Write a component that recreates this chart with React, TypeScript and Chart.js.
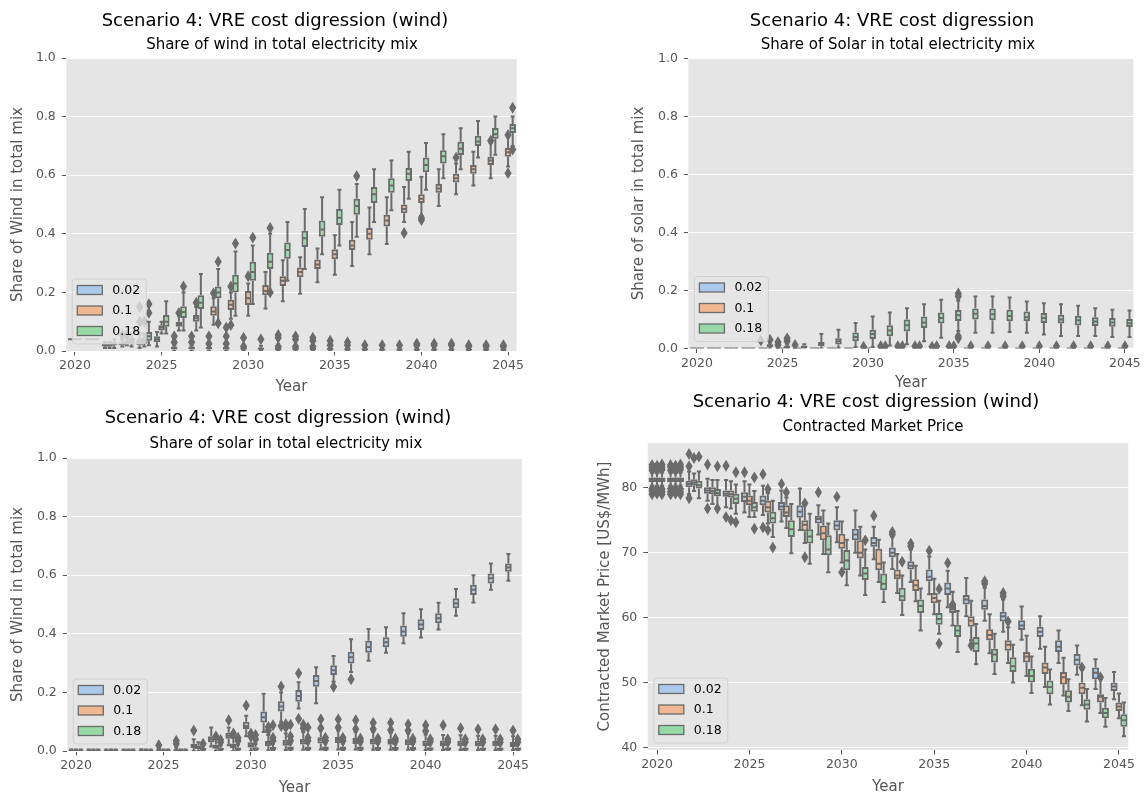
import React, { useEffect, useRef } from 'react';
import { Chart, registerables } from 'chart.js';

Chart.register(...registerables);

// ---------------- data ----------------
const YEARS = [2020, 2021, 2022, 2023, 2024, 2025, 2026, 2027, 2028, 2029, 2030, 2031, 2032, 2033, 2034, 2035, 2036, 2037, 2038, 2039, 2040, 2041, 2042, 2043, 2044, 2045];
const HUES = ['0.02', '0.1', '0.18'];
const X_TICK_YEARS = [2020, 2025, 2030, 2035, 2040, 2045];

// Top-left: share of wind (wind scenario)
const tlMed02 = [0.04, 0.04, 0.02, 0.025, 0.03, 0.04, 0.01, 0.01, 0.01, 0.01, 0.008, 0.008, 0.008, 0.007, 0.007, 0.006, 0.006, 0.005, 0.005, 0.005, 0.005, 0.005, 0.004, 0.004, 0.004, 0.004];
const tlQ1_02 = [0.04, 0.04, 0.015, 0.02, 0.02, 0.03, 0.005, 0.005, 0.005, 0.004, 0.004, 0.004, 0.003, 0.003, 0.003, 0.003, 0.002, 0.002, 0.002, 0.002, 0.002, 0.002, 0.002, 0.002, 0.002, 0.002];
const tlQ3_02 = [0.04, 0.04, 0.025, 0.03, 0.04, 0.05, 0.015, 0.015, 0.014, 0.014, 0.012, 0.012, 0.012, 0.011, 0.01, 0.01, 0.009, 0.009, 0.008, 0.008, 0.008, 0.008, 0.007, 0.007, 0.007, 0.007];
const tlLo02 = [0.04, 0.04, 0.01, 0.015, 0.01, 0.015, 0, 0, 0, 0, 0, 0, 0, 0, 0, 0, 0, 0, 0, 0, 0, 0, 0, 0, 0, 0];
const tlHi02 = [0.04, 0.04, 0.03, 0.04, 0.06, 0.065, 0.02, 0.02, 0.02, 0.02, 0.018, 0.018, 0.017, 0.016, 0.015, 0.014, 0.013, 0.013, 0.012, 0.012, 0.012, 0.012, 0.011, 0.011, 0.011, 0.011];
const tlOut02 = [[], [], [], [0.055], [0.1, 0.15], [], [0.03, 0.05], [0.03, 0.05], [0.025, 0.05], [0.025, 0.05, 0.08], [0.015, 0.045], [0.04], [0.015, 0.045, 0.055], [0.015, 0.04, 0.05], [0.015, 0.035, 0.045], [0.02, 0.035], [0.02, 0.03], [0.02], [0.02], [0.02], [0.02, 0.025], [0.02, 0.025], [0.02, 0.025], [0.015, 0.02], [0.015, 0.02], [0.015, 0.02]];

const tlMed10 = [0.04, 0.04, 0.02, 0.03, 0.035, 0.08, 0.092, 0.112, 0.135, 0.158, 0.18, 0.205, 0.24, 0.27, 0.295, 0.33, 0.36, 0.4, 0.445, 0.485, 0.52, 0.555, 0.59, 0.62, 0.65, 0.678];
const tlQ1_10 = [0.04, 0.04, 0.015, 0.025, 0.025, 0.07, 0.083, 0.1, 0.12, 0.14, 0.157, 0.19, 0.222, 0.252, 0.28, 0.313, 0.345, 0.38, 0.425, 0.47, 0.505, 0.54, 0.575, 0.605, 0.635, 0.663];
const tlQ3_10 = [0.04, 0.04, 0.025, 0.035, 0.045, 0.088, 0.1, 0.123, 0.153, 0.175, 0.205, 0.225, 0.255, 0.285, 0.312, 0.347, 0.38, 0.42, 0.465, 0.5, 0.535, 0.57, 0.605, 0.635, 0.663, 0.693];
const tlLo10 = [0.04, 0.04, 0.01, 0.02, 0.015, 0.06, 0.07, 0.07, 0.09, 0.11, 0.12, 0.145, 0.17, 0.195, 0.235, 0.26, 0.29, 0.33, 0.365, 0.44, 0.46, 0.495, 0.535, 0.565, 0.59, 0.63];
const tlHi10 = [0.04, 0.04, 0.03, 0.045, 0.06, 0.1, 0.12, 0.15, 0.18, 0.2, 0.23, 0.27, 0.31, 0.32, 0.35, 0.395, 0.44, 0.49, 0.525, 0.56, 0.595, 0.62, 0.64, 0.68, 0.71, 0.73];
const tlOut10 = [[], [], [], [0.055], [0.1], [], [0.13], [0.165], [0.197], [0.22, 0.089], [0.255], [], [], [], [], [], [], [], [], [0.403], [0.447, 0.455], [], [0.66], [], [0.718], [0.737, 0.607]];

const tlMed18 = [0.04, 0.04, 0.025, 0.035, 0.05, 0.1, 0.133, 0.165, 0.2, 0.23, 0.27, 0.305, 0.345, 0.385, 0.415, 0.455, 0.495, 0.535, 0.565, 0.605, 0.635, 0.665, 0.69, 0.715, 0.74, 0.76];
const tlQ1_18 = [0.04, 0.04, 0.02, 0.025, 0.035, 0.083, 0.113, 0.143, 0.18, 0.2, 0.24, 0.28, 0.315, 0.355, 0.39, 0.43, 0.465, 0.505, 0.54, 0.58, 0.61, 0.64, 0.669, 0.7, 0.724, 0.744];
const tlQ3_18 = [0.04, 0.04, 0.03, 0.045, 0.065, 0.123, 0.153, 0.19, 0.22, 0.26, 0.305, 0.335, 0.37, 0.41, 0.445, 0.485, 0.52, 0.56, 0.59, 0.625, 0.66, 0.685, 0.714, 0.735, 0.761, 0.775];
const tlLo18 = [0.04, 0.04, 0.01, 0.015, 0.02, 0.06, 0.07, 0.08, 0.1, 0.12, 0.16, 0.2, 0.24, 0.28, 0.33, 0.36, 0.39, 0.44, 0.48, 0.52, 0.55, 0.59, 0.62, 0.66, 0.67, 0.7];
const tlHi18 = [0.04, 0.04, 0.04, 0.06, 0.1, 0.17, 0.2, 0.263, 0.28, 0.34, 0.36, 0.4, 0.44, 0.485, 0.525, 0.55, 0.57, 0.62, 0.65, 0.68, 0.71, 0.74, 0.76, 0.785, 0.8, 0.8];
const tlOut18 = [[], [], [], [], [0.13, 0.16], [], [0.22], [], [0.305, 0.095], [0.367], [0.387], [0.42, 0.2], [], [], [], [], [0.597], [], [], [], [], [], [], [], [], [0.83, 0.688]];

// Top-right: share of solar
const trFlatZero = [0, 0, 0, 0, 0, 0, 0, 0, 0, 0, 0, 0, 0, 0, 0, 0, 0, 0, 0, 0, 0, 0, 0, 0, 0, 0];
const trOut02 = [[], [], [], [], [0.028], [0.022, 0.012], [0.012], [], [], [], [0.006], [0.008], [0.008], [0.008], [0.006], [0.008], [], [], [], [], [], [], [], [], [], []];
const trOut10 = [[], [], [], [], [], [], [], [], [], [], [], [0.008], [0.008], [0.008], [0.008], [0.008], [0.008], [0.008], [0.008], [0.008], [0.008], [0.008], [0.008], [0.008], [0.008], [0.008]];
const trMed18 = [0, 0, 0, 0, 0.01, 0.005, 0.005, 0.015, 0.025, 0.04, 0.05, 0.062, 0.08, 0.09, 0.105, 0.115, 0.12, 0.118, 0.112, 0.108, 0.105, 0.1, 0.097, 0.093, 0.09, 0.087];
const trQ1_18 = [0, 0, 0, 0, 0.005, 0, 0, 0.008, 0.014, 0.025, 0.033, 0.042, 0.059, 0.071, 0.086, 0.095, 0.1, 0.097, 0.094, 0.094, 0.088, 0.086, 0.079, 0.078, 0.075, 0.074];
const trQ3_18 = [0, 0, 0, 0, 0.015, 0.01, 0.01, 0.022, 0.035, 0.055, 0.065, 0.08, 0.1, 0.11, 0.124, 0.133, 0.138, 0.138, 0.134, 0.128, 0.122, 0.116, 0.113, 0.108, 0.105, 0.102];
const trLo18 = [0, 0, 0, 0, 0, 0, 0, 0, 0.002, 0.005, 0.005, 0.01, 0.015, 0.025, 0.037, 0.06, 0.054, 0.054, 0.057, 0.054, 0.048, 0.043, 0.043, 0.043, 0.04, 0.04];
const trHi18 = [0, 0, 0, 0, 0.02, 0.015, 0.015, 0.05, 0.065, 0.088, 0.11, 0.124, 0.139, 0.153, 0.168, 0.165, 0.179, 0.179, 0.176, 0.162, 0.156, 0.153, 0.147, 0.139, 0.134, 0.131];
const trOut18 = [[], [], [], [], [0.03], [0.025, 0.035], [], [], [], [], [], [], [], [], [], [0.19, 0.18, 0.042, 0.035], [], [], [], [], [], [], [], [], [], []];

// Bottom-left: share of solar (wind scenario)
const blMed02 = [0.002, 0.002, 0.002, 0.002, 0.002, 0.003, 0.003, 0.018, 0.04, 0.052, 0.085, 0.115, 0.152, 0.188, 0.239, 0.276, 0.32, 0.355, 0.371, 0.408, 0.432, 0.453, 0.504, 0.55, 0.59, 0.626];
const blQ1_02 = [0, 0, 0, 0, 0, 0, 0, 0.01, 0.03, 0.042, 0.075, 0.097, 0.135, 0.168, 0.219, 0.259, 0.299, 0.335, 0.354, 0.39, 0.413, 0.436, 0.487, 0.532, 0.572, 0.612];
const blQ3_02 = [0.004, 0.004, 0.004, 0.004, 0.004, 0.005, 0.005, 0.025, 0.05, 0.062, 0.1, 0.135, 0.17, 0.208, 0.259, 0.293, 0.339, 0.376, 0.388, 0.428, 0.45, 0.47, 0.521, 0.567, 0.606, 0.64];
const blLo02 = [0, 0, 0, 0, 0, 0, 0, 0, 0.015, 0.02, 0.05, 0.065, 0.1, 0.145, 0.163, 0.236, 0.27, 0.308, 0.335, 0.368, 0.387, 0.415, 0.462, 0.507, 0.55, 0.581];
const blHi02 = [0.005, 0.005, 0.005, 0.005, 0.006, 0.01, 0.012, 0.04, 0.08, 0.08, 0.12, 0.195, 0.2, 0.235, 0.286, 0.324, 0.381, 0.416, 0.422, 0.47, 0.484, 0.506, 0.553, 0.6, 0.64, 0.672];
const blOut02 = [[], [], [], [], [], [0.02], [0.035, 0.025], [0.07], [], [0.105], [0.155], [], [0.22, 0.085], [0.265, 0.11], [], [0.219], [0.245], [], [], [], [], [], [], [], [], []];

const blMed10 = [0.002, 0.002, 0.002, 0.002, 0.002, 0.002, 0.002, 0.012, 0.015, 0.018, 0.02, 0.025, 0.028, 0.032, 0.037, 0.038, 0.034, 0.032, 0.031, 0.03, 0.026, 0.026, 0.025, 0.025, 0.025, 0.022];
const blQ1_10 = [0, 0, 0, 0, 0, 0, 0, 0.006, 0.008, 0.01, 0.012, 0.016, 0.018, 0.022, 0.026, 0.027, 0.024, 0.022, 0.021, 0.02, 0.017, 0.017, 0.016, 0.016, 0.016, 0.014];
const blQ3_10 = [0.004, 0.004, 0.004, 0.004, 0.004, 0.004, 0.004, 0.02, 0.022, 0.026, 0.03, 0.034, 0.038, 0.042, 0.047, 0.048, 0.044, 0.042, 0.041, 0.04, 0.036, 0.036, 0.035, 0.035, 0.034, 0.031];
const blLo10 = [0, 0, 0, 0, 0, 0, 0, 0, 0, 0, 0, 0.002, 0.003, 0.004, 0.005, 0.005, 0.005, 0.004, 0.004, 0.004, 0.003, 0.003, 0.003, 0.003, 0.003, 0.003];
const blHi10 = [0.005, 0.005, 0.005, 0.005, 0.005, 0.005, 0.005, 0.03, 0.04, 0.045, 0.05, 0.055, 0.06, 0.065, 0.07, 0.07, 0.066, 0.065, 0.062, 0.06, 0.056, 0.055, 0.054, 0.052, 0.052, 0.05];
const blOut10 = [[], [], [], [], [], [], [], [], [0.05], [0.06], [0.06, 0.05], [0.082, 0.07], [0.092, 0.08], [0.09, 0.078], [0.108, 0.078], [0.108, 0.08], [0.105, 0.075], [0.096, 0.075], [0.096, 0.072], [0.091, 0.07], [0.088, 0.068], [0.088], [0.078], [0.074], [0.074], [0.07]];

const blMed18 = [0.002, 0.002, 0.002, 0.002, 0.002, 0.002, 0.002, 0.005, 0.006, 0.006, 0.007, 0.007, 0.008, 0.008, 0.008, 0.008, 0.008, 0.007, 0.007, 0.007, 0.007, 0.007, 0.006, 0.006, 0.006, 0.006];
const blQ1_18 = [0, 0, 0, 0, 0, 0, 0, 0.002, 0.002, 0.002, 0.003, 0.003, 0.003, 0.003, 0.003, 0.003, 0.003, 0.003, 0.003, 0.003, 0.003, 0.003, 0.002, 0.002, 0.002, 0.002];
const blQ3_18 = [0.004, 0.004, 0.004, 0.004, 0.004, 0.004, 0.004, 0.01, 0.011, 0.012, 0.013, 0.014, 0.015, 0.015, 0.015, 0.015, 0.015, 0.014, 0.014, 0.014, 0.013, 0.013, 0.012, 0.012, 0.012, 0.012];
const blLo18 = [0, 0, 0, 0, 0, 0, 0, 0, 0, 0, 0, 0, 0, 0, 0, 0, 0, 0, 0, 0, 0, 0, 0, 0, 0, 0];
const blHi18 = [0.005, 0.005, 0.005, 0.005, 0.005, 0.005, 0.005, 0.018, 0.02, 0.022, 0.024, 0.025, 0.026, 0.026, 0.026, 0.026, 0.025, 0.025, 0.024, 0.024, 0.023, 0.023, 0.022, 0.022, 0.021, 0.021];
const blOut18 = [[], [], [], [], [], [], [], [0.025], [0.03, 0.038], [0.035, 0.045], [0.04, 0.055], [0.035, 0.045, 0.088], [0.035, 0.05, 0.09], [0.035, 0.045, 0.08], [0.035, 0.045], [0.035, 0.045], [0.033, 0.043], [0.033, 0.043], [0.033, 0.042], [0.032, 0.042], [0.032, 0.04], [0.031, 0.04], [0.031, 0.04], [0.03, 0.04], [0.03, 0.04], [0.03, 0.04]];

// Bottom-right: contracted market price
const brMed02 = [81.2, 81.2, 80.6, 79.6, 79.1, 78.6, 78.0, 77.1, 76.3, 75.2, 74.2, 72.8, 71.5, 70.0, 68.0, 66.3, 64.5, 62.8, 61.8, 60.2, 58.8, 57.8, 55.5, 53.5, 51.5, 49.4];
const brQ1_02 = [80.9, 80.9, 80.1, 79.1, 78.6, 77.8, 77.3, 76.5, 75.4, 74.5, 73.4, 71.9, 70.9, 69.3, 67.4, 65.6, 63.5, 62.0, 61.2, 59.4, 58.1, 57.0, 54.7, 52.6, 50.5, 48.7];
const brQ3_02 = [81.6, 81.6, 81.1, 80.1, 79.6, 79.3, 78.8, 77.8, 77.3, 75.7, 75.0, 73.7, 72.4, 70.8, 68.7, 67.4, 65.4, 63.5, 62.8, 60.9, 59.6, 58.6, 56.5, 54.4, 52.3, 50.0];
const brLo02 = [80.3, 80.3, 79.0, 78.0, 77.0, 76.2, 75.8, 74.8, 73.5, 72.8, 71.6, 70.0, 69.0, 67.5, 65.5, 63.6, 61.6, 60.2, 59.5, 57.8, 56.6, 55.2, 53.0, 51.2, 49.0, 47.4];
const brHi02 = [82.3, 82.3, 82.5, 81.4, 81.2, 81.0, 80.3, 79.6, 79.9, 77.3, 77.0, 76.5, 74.0, 72.5, 70.5, 69.4, 67.2, 66.1, 64.6, 62.8, 61.7, 60.2, 58.0, 55.7, 53.6, 51.6];
const brOut02 = [[79.0, 79.5, 79.9, 82.7, 83.1, 83.5], [79.0, 79.4, 79.9, 82.7, 83.2, 83.5], [85.2, 83.3, 78.4], [83.6, 76.8], [83.4, 75.5], [82.4], [82.1, 73.9], [80.6], [], [79.3], [78.6], [], [75.7], [72.8, 73.2], [71.0, 71.4], [70.3], [68.4], [], [65.6, 65.2], [63.8, 63.3], [], [], [], [], [], []];

const brMed10 = [81.2, 81.2, 80.8, 79.5, 79.0, 78.0, 77.0, 76.2, 74.3, 73.0, 71.5, 70.0, 68.3, 66.5, 65.0, 63.0, 61.3, 59.5, 57.3, 55.8, 54.0, 52.3, 50.8, 49.2, 47.8, 46.3];
const brQ1_10 = [80.9, 80.9, 80.4, 79.0, 78.5, 77.3, 76.2, 75.5, 73.3, 71.9, 70.6, 69.1, 67.3, 65.9, 64.1, 62.2, 60.7, 58.6, 56.5, 54.9, 53.1, 51.3, 49.7, 48.2, 46.9, 45.6];
const brQ3_10 = [81.6, 81.6, 81.3, 80.1, 79.6, 78.8, 78.0, 77.3, 75.0, 74.2, 72.9, 71.9, 70.6, 67.4, 65.9, 63.8, 62.2, 60.2, 58.2, 56.5, 54.7, 53.1, 51.6, 50.0, 48.2, 46.9];
const brLo10 = [80.3, 80.3, 79.5, 77.5, 76.8, 75.5, 74.5, 73.8, 71.5, 69.8, 68.5, 66.5, 65.5, 63.8, 62.5, 60.5, 58.8, 56.5, 54.5, 53.0, 51.0, 49.3, 48.0, 46.5, 45.3, 44.5];
const brHi10 = [82.3, 82.3, 82.2, 81.2, 81.0, 80.5, 79.2, 78.5, 77.5, 76.5, 74.8, 74.0, 72.0, 69.8, 68.0, 66.0, 64.0, 62.6, 60.5, 58.5, 57.2, 55.5, 53.8, 52.0, 50.5, 48.3];
const brOut10 = [[79.1, 79.5, 79.9, 82.6, 83.0, 83.4], [79.1, 79.6, 79.9, 82.6, 83.0, 83.4], [84.6], [], [75.0], [], [79.8, 73.5], [79.3], [69.3, 77.6], [], [67.0], [], [], [], [], [], [62.0], [55.7], [], [59.4], [], [], [], [52.3], [50.8], []];

const brMed18 = [81.2, 81.2, 80.4, 79.2, 78.3, 77.0, 75.3, 73.6, 72.5, 70.5, 68.8, 66.8, 65.2, 63.3, 61.8, 59.8, 58.0, 56.0, 54.3, 52.5, 51.0, 49.3, 47.8, 46.6, 45.3, 44.2];
const brQ1_18 = [80.9, 80.9, 79.9, 78.7, 77.5, 76.3, 74.5, 72.4, 71.4, 69.6, 67.3, 65.8, 64.2, 62.5, 60.7, 58.9, 57.0, 54.7, 53.1, 51.6, 50.0, 48.2, 46.9, 45.8, 44.5, 43.2];
const brQ3_18 = [81.6, 81.6, 81.1, 79.8, 79.1, 77.8, 76.3, 75.0, 73.6, 72.7, 70.4, 67.8, 66.8, 64.6, 62.8, 60.7, 58.9, 57.0, 55.2, 53.9, 52.1, 50.3, 48.8, 47.4, 46.1, 45.1];
const brLo18 = [80.3, 80.3, 78.4, 77.0, 76.0, 75.5, 72.4, 69.9, 68.3, 67.0, 65.0, 63.5, 62.4, 60.4, 58.0, 57.5, 54.7, 52.8, 51.3, 50.0, 48.4, 46.6, 45.6, 44.0, 43.2, 41.7];
const brHi18 = [82.3, 82.3, 82.5, 81.2, 80.5, 79.5, 78.0, 77.5, 76.0, 74.5, 72.0, 70.5, 68.5, 66.5, 64.5, 62.6, 61.0, 59.0, 57.5, 55.8, 54.0, 52.0, 50.5, 49.0, 47.6, 46.9];
const brOut18 = [[79.0, 79.4, 79.8, 82.8, 83.2, 83.6], [79.0, 79.4, 79.8, 82.8, 83.2, 83.6], [84.8], [83.3, 76.8], [82.4, 74.7], [81.6, 73.7], [70.8], [], [], [], [], [71.9], [], [68.6], [], [64.4, 56.0], [], [], [], [], [], [], [], [], [], []];

// ---------------- styling ----------------
const HUE_FILL = ['#abc9ea', '#efb792', '#98daa7'];
const EDGE = '#6b6b6b';
const PLOT_BG = '#e5e5e5';
const TICK_GRAY = '#555555';
const FONT = "'DejaVu Sans', 'Liberation Sans', sans-serif";
const LINE_W = 2;

type Stats = { med: number[]; q1: number[]; q3: number[]; lo: number[]; hi: number[]; out: number[][] };

interface Panel {
  id: string;
  title: string;
  subtitle: string;
  yTitle: string;
  series: Stats[];
  yMin: number;
  yMax: number;
  yStep: number;
  yDec: number;
  left: number;
  top: number;
  width: number;
  height: number;
  padTop: number;
  padRight: number;
  yW: number;
  xH: number;
  yTitlePad: number;
  titleX: number;
  titleY: number;
  subX: number;
  subY: number;
}

const PANELS: Panel[] = [
  {
    id: 'tl',
    title: 'Scenario 4: VRE cost digression (wind)',
    subtitle: 'Share of wind in total electricity mix',
    yTitle: 'Share of Wind in total mix',
    series: [
      { med: tlMed02, q1: tlQ1_02, q3: tlQ3_02, lo: tlLo02, hi: tlHi02, out: tlOut02 },
      { med: tlMed10, q1: tlQ1_10, q3: tlQ3_10, lo: tlLo10, hi: tlHi10, out: tlOut10 },
      { med: tlMed18, q1: tlQ1_18, q3: tlQ3_18, lo: tlLo18, hi: tlHi18, out: tlOut18 },
    ],
    yMin: 0, yMax: 1, yStep: 0.2, yDec: 1,
    left: 0, top: 0, width: 560, height: 396,
    padTop: 58, padRight: 43.3, yW: 66.3, xH: 45, yTitlePad: 9,
    titleX: 275, titleY: 19.5, subX: 282, subY: 44,
  },
  {
    id: 'tr',
    title: 'Scenario 4: VRE cost digression',
    subtitle: 'Share of Solar in total electricity mix',
    yTitle: 'Share of solar in total mix',
    series: [
      { med: trFlatZero, q1: trFlatZero, q3: trFlatZero, lo: trFlatZero, hi: trFlatZero, out: trOut02 },
      { med: trFlatZero, q1: trFlatZero, q3: trFlatZero, lo: trFlatZero, hi: trFlatZero, out: trOut10 },
      { med: trMed18, q1: trQ1_18, q3: trQ3_18, lo: trLo18, hi: trHi18, out: trOut18 },
    ],
    yMin: 0, yMax: 1, yStep: 0.2, yDec: 1,
    left: 600, top: 0, width: 544, height: 392,
    padTop: 58.5, padRight: 9.4, yW: 88.4, xH: 43.5, yTitlePad: 30,
    titleX: 892, titleY: 19.5, subX: 898, subY: 44,
  },
  {
    id: 'bl',
    title: 'Scenario 4: VRE cost digression (wind)',
    subtitle: 'Share of solar in total electricity mix',
    yTitle: 'Share of Wind in total mix',
    series: [
      { med: blMed02, q1: blQ1_02, q3: blQ3_02, lo: blLo02, hi: blHi02, out: blOut02 },
      { med: blMed10, q1: blQ1_10, q3: blQ3_10, lo: blLo10, hi: blHi10, out: blOut10 },
      { med: blMed18, q1: blQ1_18, q3: blQ3_18, lo: blLo18, hi: blHi18, out: blOut18 },
    ],
    yMin: 0, yMax: 1, yStep: 0.2, yDec: 1,
    left: 0, top: 400, width: 560, height: 397,
    padTop: 58, padRight: 38.2, yW: 67.3, xH: 46, yTitlePad: 9,
    titleX: 278, titleY: 417, subX: 286, subY: 443,
  },
  {
    id: 'br',
    title: 'Scenario 4: VRE cost digression (wind)',
    subtitle: 'Contracted Market Price',
    yTitle: 'Contracted Market Price [US$/MWh]',
    series: [
      { med: brMed02, q1: brQ1_02, q3: brQ3_02, lo: brLo02, hi: brHi02, out: brOut02 },
      { med: brMed10, q1: brQ1_10, q3: brQ3_10, lo: brLo10, hi: brHi10, out: brOut10 },
      { med: brMed18, q1: brQ1_18, q3: brQ3_18, lo: brLo18, hi: brHi18, out: brOut18 },
    ],
    yMin: 39.6, yMax: 86.9, yStep: 10, yDec: 0,
    left: 580, top: 400, width: 564, height: 396,
    padTop: 43, padRight: 15.8, yW: 67.8, xH: 46, yTitlePad: 16,
    titleX: 866, titleY: 401, subX: 873, subY: 426,
  },
];

// ---------------- plugin: seaborn-like box details + legend ----------------
const boxPlugin = {
  id: 'seabornBoxDetails',
  beforeDraw(chart: any) {
    const { ctx, chartArea: a } = chart;
    ctx.save();
    ctx.fillStyle = PLOT_BG;
    ctx.fillRect(a.left, a.top, a.right - a.left, a.bottom - a.top);
    ctx.restore();
  },
  afterDatasetsDraw(chart: any) {
    const { ctx, chartArea: a } = chart;
    const ys = chart.scales.y;
    ctx.save();
    ctx.beginPath();
    ctx.rect(a.left, a.top, a.right - a.left, a.bottom - a.top);
    ctx.clip();
    ctx.strokeStyle = EDGE;
    ctx.fillStyle = EDGE;
    ctx.lineWidth = LINE_W;
    ctx.lineCap = 'butt';
    chart.data.datasets.forEach((ds: any, di: number) => {
      const st: Stats = ds.stats;
      const meta = chart.getDatasetMeta(di);
      meta.data.forEach((bar: any, i: number) => {
        const { x, width } = bar.getProps(['x', 'width'], true);
        const yq1 = ys.getPixelForValue(st.q1[i]);
        const yq3 = ys.getPixelForValue(st.q3[i]);
        const ylo = ys.getPixelForValue(st.lo[i]);
        const yhi = ys.getPixelForValue(st.hi[i]);
        const ymed = ys.getPixelForValue(st.med[i]);
        const cw = width * 0.3;
        ctx.beginPath();
        ctx.moveTo(x, yq3);
        ctx.lineTo(x, yhi);
        ctx.moveTo(x, yq1);
        ctx.lineTo(x, ylo);
        ctx.moveTo(x - cw, yhi);
        ctx.lineTo(x + cw, yhi);
        ctx.moveTo(x - cw, ylo);
        ctx.lineTo(x + cw, ylo);
        ctx.moveTo(x - width / 2 + 1, ymed);
        ctx.lineTo(x + width / 2 - 1, ymed);
        ctx.stroke();
        st.out[i].forEach((v: number) => {
          const yy = ys.getPixelForValue(v);
          ctx.beginPath();
          ctx.moveTo(x, yy - 4.8);
          ctx.lineTo(x + 2.9, yy);
          ctx.lineTo(x, yy + 4.8);
          ctx.lineTo(x - 2.9, yy);
          ctx.closePath();
          ctx.save();
          ctx.lineWidth = 1.2;
          ctx.fill();
          ctx.stroke();
          ctx.restore();
        });
      });
    });
    ctx.restore();

    // legend (matplotlib style, lower left, semi-transparent frame)
    const lw = 74;
    const lh = 65;
    const lx = a.left + 6;
    const ly = a.bottom - 7 - lh;
    ctx.save();
    ctx.globalAlpha = 0.8;
    ctx.beginPath();
    (ctx as any).roundRect(lx, ly, lw, lh, 3);
    ctx.fillStyle = PLOT_BG;
    ctx.fill();
    ctx.strokeStyle = '#cccccc';
    ctx.lineWidth = 1;
    ctx.stroke();
    ctx.globalAlpha = 1;
    chart.data.datasets.forEach((ds: any, k: number) => {
      const cy = ly + 11 + k * 20.5;
      ctx.fillStyle = ds.backgroundColor;
      ctx.fillRect(lx + 5, cy - 4.5, 25, 9);
      ctx.strokeStyle = EDGE;
      ctx.lineWidth = 1.3;
      ctx.strokeRect(lx + 5, cy - 4.5, 25, 9);
      ctx.fillStyle = '#000000';
      ctx.font = `12.5px ${FONT}`;
      ctx.textBaseline = 'middle';
      ctx.textAlign = 'left';
      ctx.fillText(ds.label, lx + 40, cy + 0.5);
    });
    ctx.restore();
  },
};

function buildConfig(p: Panel): any {
  return {
    type: 'bar',
    data: {
      labels: YEARS.map(String),
      datasets: p.series.map((s, k) => ({
        label: HUES[k],
        data: s.q1.map((v, i) => [v, s.q3[i]]),
        stats: s,
        backgroundColor: HUE_FILL[k],
        borderColor: EDGE,
        borderWidth: LINE_W,
        borderSkipped: false,
        categoryPercentage: 0.8,
        barPercentage: 1.43,
      })),
    },
    options: {
      animation: false,
      responsive: false,
      maintainAspectRatio: false,
      devicePixelRatio: 1,
      events: [],
      layout: { padding: { left: 0, top: p.padTop, right: p.padRight, bottom: 0 } },
      plugins: {
        legend: { display: false },
        tooltip: { enabled: false },
        title: { display: false },
      },
      scales: {
        x: {
          type: 'category',
          offset: true,
          grid: {
            display: true,
            drawOnChartArea: false,
            drawTicks: true,
            tickLength: 4.5,
            offset: false,
            tickColor: (ctx: any) => (X_TICK_YEARS.includes(YEARS[ctx.index]) ? TICK_GRAY : 'rgba(0,0,0,0)'),
          },
          border: { display: false },
          ticks: {
            autoSkip: false,
            maxRotation: 0,
            minRotation: 0,
            color: TICK_GRAY,
            padding: 3,
            font: { family: FONT, size: 12.5 },
            callback: (_v: any, i: number) => (X_TICK_YEARS.includes(YEARS[i]) ? String(YEARS[i]) : ''),
          },
          title: {
            display: true,
            text: 'Year',
            color: TICK_GRAY,
            font: { family: FONT, size: 15 },
            padding: { top: 0, bottom: 0 },
          },
          afterFit: (s: any) => {
            s.height = p.xH;
          },
        },
        y: {
          type: 'linear',
          min: p.yMin,
          max: p.yMax,
          grid: {
            color: '#ffffff',
            lineWidth: 1,
            drawTicks: true,
            tickLength: 4.5,
            tickColor: TICK_GRAY,
          },
          border: { display: false },
          ticks: {
            stepSize: p.yStep,
            includeBounds: false,
            color: TICK_GRAY,
            padding: 6,
            font: { family: FONT, size: 12.5 },
            callback: (v: any) => Number(v).toFixed(p.yDec),
          },
          title: {
            display: true,
            text: p.yTitle,
            color: TICK_GRAY,
            font: { family: FONT, size: 15 },
            padding: { top: p.yTitlePad, bottom: 0 },
          },
          afterFit: (s: any) => {
            s.width = p.yW;
          },
        },
      },
    },
    plugins: [boxPlugin],
  };
}

function BoxPanel({ p }: { p: Panel }) {
  const ref = useRef<HTMLCanvasElement>(null);
  useEffect(() => {
    if (!ref.current) return;
    const chart = new Chart(ref.current, buildConfig(p));
    return () => chart.destroy();
  }, [p]);
  return (
    <canvas
      ref={ref}
      width={p.width}
      height={p.height}
      style={{ position: 'absolute', left: p.left, top: p.top, width: p.width, height: p.height }}
    />
  );
}

const textStyle = (x: number, y: number, size: number): React.CSSProperties => ({
  position: 'absolute',
  left: x,
  top: y,
  transform: 'translate(-50%, -50%)',
  fontFamily: FONT,
  fontSize: size,
  lineHeight: `${size}px`,
  whiteSpace: 'nowrap',
  color: '#000000',
  pointerEvents: 'none',
});

export default function App() {
  return (
    <div style={{ position: 'absolute', left: 0, top: 0, width: 1144, height: 798, background: '#ffffff', overflow: 'hidden' }}>
      {PANELS.map((p) => (
        <React.Fragment key={p.id}>
          <BoxPanel p={p} />
          <div style={textStyle(p.titleX, p.titleY, 18)}>{p.title}</div>
          <div style={textStyle(p.subX, p.subY, 15)}>{p.subtitle}</div>
        </React.Fragment>
      ))}
    </div>
  );
}
